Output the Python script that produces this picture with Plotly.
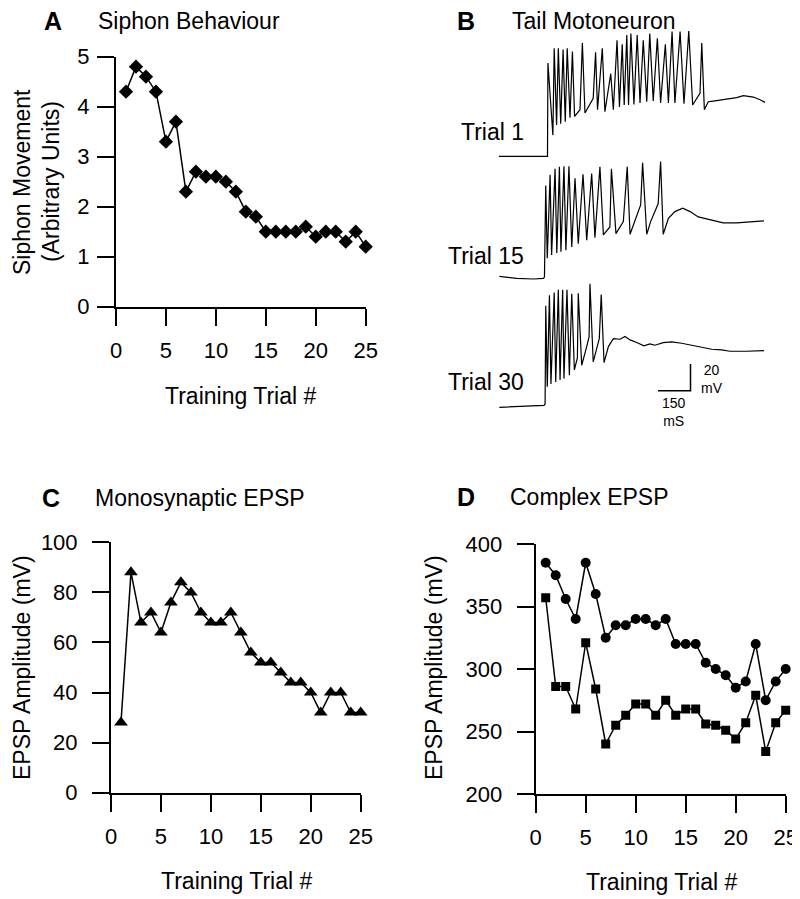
import plotly.graph_objects as go

# page body adds an 8 px margin, so the figure is drawn smaller and
# every reference pixel position is shifted by that margin
OFF = 8
W, H = 800 - OFF, 899 - OFF
FONT = "Liberation Sans, Arial, Helvetica, sans-serif"

# ---------------- data ----------------
trials = list(range(1, 26))
siphon_movement = [4.3, 4.8, 4.6, 4.3, 3.3, 3.7, 2.3, 2.7, 2.6, 2.6, 2.5, 2.3, 1.9,
                   1.8, 1.5, 1.5, 1.5, 1.5, 1.6, 1.4, 1.5, 1.5, 1.3, 1.5, 1.2]
mono_epsp = [28, 88, 68, 72, 64, 76, 84, 80, 72, 68, 68, 72, 64, 56, 52, 52, 48,
             44, 44, 40, 32, 40, 40, 32, 32]
complex_epsp_circles = [385, 375, 356, 340, 385, 360, 325, 335, 335, 340, 340, 335,
                        340, 320, 320, 320, 305, 300, 295, 285, 290, 320, 275, 290, 300]
complex_epsp_squares = [357, 286, 286, 268, 321, 284, 240, 255, 263, 272, 272, 263,
                        275, 263, 268, 268, 256, 255, 251, 244, 257, 279, 234, 257, 267]

# Tail motoneuron recordings: time (ms) and membrane potential relative to rest (mV)
trial1_t = [9, 233, 235, 258, 264, 275, 283, 294, 305, 315, 324, 337, 348, 358, 383,
            394, 406, 444, 455, 464, 486, 498, 525, 537, 554, 565, 578, 587, 599, 607,
            618, 632, 647, 660, 675, 691, 705, 721, 740, 755, 777, 791, 808, 821, 845,
            863, 885, 903, 937, 945, 957, 975, 998, 1060, 1106, 1137, 1183, 1214, 1237]
trial1_v = [0, 0, 70, 16, 81, 23.5, 81, 24.5, 80, 26, 81, 29, 78.5, 30, 35,
            85, 32.5, 43.5, 78, 35, 81, 33.5, 62, 35, 87, 37, 84, 38.5, 91, 38.5,
            92, 39, 91, 40, 87, 41, 92, 41.5, 88.5, 40, 84, 40, 93.5, 40, 93.5,
            39.5, 94, 38.5, 47.5, 85, 35, 41, 41.5, 43, 44, 45.5, 44.5, 42.5, 40.5]
trial15_t = [11, 91, 168, 214, 219, 225, 232, 245, 252, 268, 276, 288, 295, 309, 318,
             332, 345, 360, 375, 397, 414, 437, 452, 475, 491, 521, 528, 549, 583, 601,
             614, 637, 663, 672, 691, 709, 744, 755, 767, 791, 821, 857, 891, 929, 968,
             1044, 1106, 1183, 1232]
trial15_v = [0.5, -1, -1.5, -1, 0, 68.5, 14, 76.5, 16.5, 81, 18, 82.5, 19, 83, 20,
             83, 22.5, 74, 25, 77, 27.5, 77.5, 29.5, 82.5, 31.5, 37.5, 81, 32.5, 41.5, 82.5,
             32, 42.5, 54, 85.5, 32, 41.5, 55, 86.5, 32, 44, 49, 51.5, 49, 45, 43.5,
             40.5, 40.5, 41.5, 42]
trial30_t = [11, 168, 217, 222, 225, 232, 242, 249, 264, 271, 283, 291, 303, 309, 323,
             334, 345, 357, 371, 375, 391, 414, 425, 429, 444, 472, 481, 494, 514, 537,
             568, 591, 614, 645, 678, 706, 729, 767, 806, 852, 899, 945, 991, 1037, 1075,
             1152, 1232]
trial30_v = [-1, 0, 0.5, 1.5, 75, 14.5, 83, 16.5, 85, 18, 87, 19.5, 87, 20.5, 87,
             23, 84, 27, 36, 84.5, 30.5, 44.5, 52, 91.5, 33, 50.5, 83.5, 32.5, 44.5, 50.5,
             50, 52, 49.5, 47.5, 45, 46.5, 45.5, 47.5, 48, 47, 45.5, 43.5, 42.5, 42, 41,
             41, 41.5]
trace_labels = ["Trial 1", "Trial 15", "Trial 30"]
scale_ms = 150
scale_mv = 20

x_ticks = [0, 5, 10, 15, 20, 25]

# ---------------- layout helpers ----------------
def fx(p):
    return (p - OFF) / W

def fy(p):
    return 1 - (p - OFF) / H

fig = go.Figure()

line = dict(color="black", width=1.5)

# A
fig.add_trace(go.Scatter(x=trials, y=siphon_movement, mode="lines+markers",
                         line=line, marker=dict(symbol="diamond", size=11, color="black"),
                         cliponaxis=False, xaxis="x", yaxis="y", showlegend=False))
# C
fig.add_trace(go.Scatter(x=trials, y=mono_epsp, mode="lines+markers",
                         line=line, marker=dict(symbol="triangle-up", size=12, color="black"),
                         cliponaxis=False, xaxis="x3", yaxis="y3", showlegend=False))
# D
fig.add_trace(go.Scatter(x=trials, y=complex_epsp_circles, mode="lines+markers",
                         line=line, marker=dict(symbol="circle", size=10, color="black"),
                         cliponaxis=False, xaxis="x4", yaxis="y4", showlegend=False))
fig.add_trace(go.Scatter(x=trials, y=complex_epsp_squares, mode="lines+markers",
                         line=line, marker=dict(symbol="square", size=9, color="black"),
                         cliponaxis=False, xaxis="x4", yaxis="y4", showlegend=False))

# B : recordings stacked vertically
offsets = [197.4, 107.1, 10.5]
for tt, vv, off in zip([trial1_t, trial15_t, trial30_t],
                       [trial1_v, trial15_v, trial30_v], offsets):
    fig.add_trace(go.Scatter(x=tt, y=[v + off for v in vv], mode="lines",
                             line=dict(color="black", width=1.2),
                             cliponaxis=False, xaxis="x2", yaxis="y2", showlegend=False))
# scale bar
sb_t0, sb_v0 = 743, 21.9
fig.add_trace(go.Scatter(x=[sb_t0, sb_t0 + scale_ms, sb_t0 + scale_ms],
                         y=[sb_v0, sb_v0, sb_v0 + scale_mv], mode="lines",
                         line=dict(color="black", width=1.5),
                         cliponaxis=False, xaxis="x2", yaxis="y2", showlegend=False))

axis_common = dict(showline=True, linecolor="black", linewidth=2, ticks="outside",
                   ticklen=17, tickwidth=2, tickcolor="black", showgrid=False,
                   zeroline=False, tickfont=dict(family=FONT, size=22, color="black"),
                   fixedrange=True, automargin=False, ticklabeloverflow="allow")

fig.update_layout(
    template="none",
    width=W, height=H, margin=dict(l=0, r=0, t=0, b=0, pad=0, autoexpand=False),
    paper_bgcolor="white", plot_bgcolor="white",
    font=dict(family=FONT, color="black"),
    showlegend=False,
    xaxis=dict(domain=[fx(116), fx(365.7)], range=[0, 25], tickvals=x_ticks,
               anchor="y", ticklabelstandoff=6, **axis_common),
    yaxis=dict(domain=[fy(306.7), fy(56.7)], range=[0, 5], dtick=1,
               anchor="x", ticklabelstandoff=3, **axis_common),
    xaxis3=dict(domain=[fx(111), fx(360.7)], range=[0, 25], tickvals=x_ticks,
                anchor="y3", ticklabelstandoff=6, **axis_common),
    yaxis3=dict(domain=[fy(792.7), fy(542.3)], range=[0, 100], dtick=20,
                anchor="x3", ticklabelstandoff=10, **axis_common),
    xaxis4=dict(domain=[fx(535.7), fx(785.7)], range=[0, 25], tickvals=x_ticks,
                anchor="y4", ticklabelstandoff=6, **axis_common),
    yaxis4=dict(domain=[fy(794), fy(544)], range=[200, 400], dtick=50,
                anchor="x4", ticklabelstandoff=10, **axis_common),
    xaxis2=dict(domain=[fx(490), fx(775)], range=[(490 - 497) * 4.615, (775 - 497) * 4.615],
                visible=False, anchor="y2", fixedrange=True, automargin=False),
    yaxis2=dict(domain=[fy(420), fy(20)], range=[0, 400 * 0.749],
                visible=False, anchor="x2", fixedrange=True, automargin=False),
)

ann = []

def text(x, y, s, size=23, xanchor="center", angle=0, bold=False):
    ann.append(dict(x=fx(x), y=fy(y), xref="paper", yref="paper", text=s,
                    showarrow=False, xanchor=xanchor, yanchor="middle",
                    textangle=angle,
                    font=dict(family=FONT, size=size, color="black",
                              weight="bold" if bold else "normal")))

# panel letters and titles
text(42, 21, "A", size=25, xanchor="left", bold=True)
text(96, 21, "Siphon Behaviour", xanchor="left")
text(455, 21, "B", size=25, xanchor="left", bold=True)
text(510, 21, "Tail Motoneuron", xanchor="left")
text(40, 498, "C", size=25, xanchor="left", bold=True)
text(93, 498, "Monosynaptic EPSP", xanchor="left")
text(455, 497, "D", size=25, xanchor="left", bold=True)
text(508, 497, "Complex EPSP", xanchor="left")

# axis titles
text(241, 396, "Training Trial #")
text(236, 881, "Training Trial #")
text(661, 882, "Training Trial #")
text(22, 182, "Siphon Movement", angle=-90)
text(51, 182, "(Arbitrary Units)", angle=-90)
text(22, 668, "EPSP Amplitude (mV)", angle=-90)
text(434, 668, "EPSP Amplitude (mV)", angle=-90)

# trace labels
for lbl, yc in zip(trace_labels, [132.5, 256, 382]):
    text(526, yc, lbl, xanchor="right")

# scale bar labels
text(699, 378.5, f"{scale_mv}<br>mV", size=14, xanchor="left")
text(674, 412, f"{scale_ms}<br>mS", size=14)

fig.update_layout(annotations=ann)

fig.write_html("out.html")
